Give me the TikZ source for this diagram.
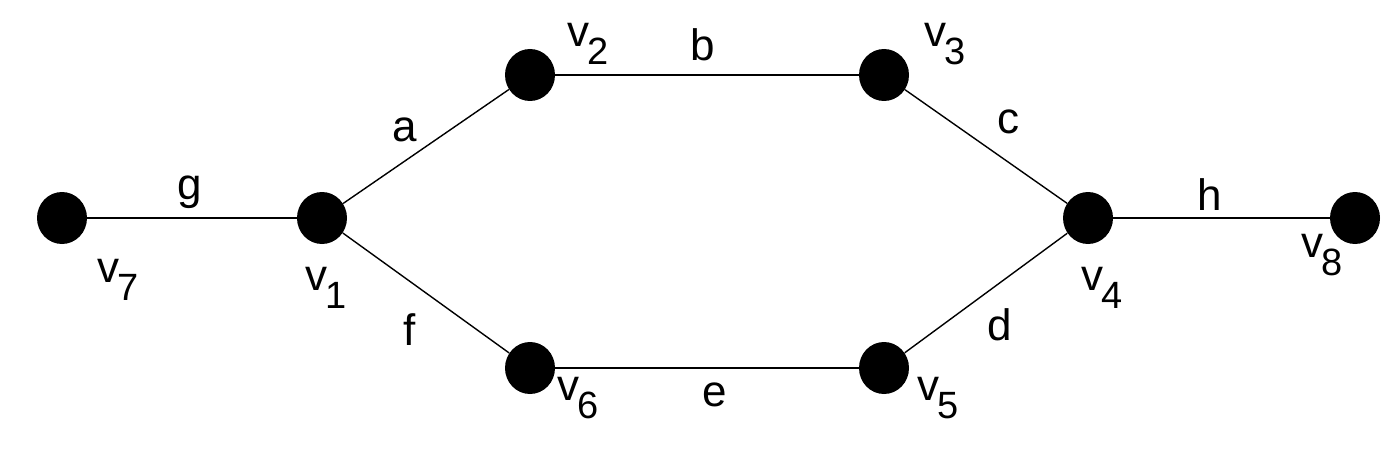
\documentclass[tikz,border=0pt]{standalone}
\usepackage{fontspec}
\setmainfont{Liberation Sans}
\usetikzlibrary{shapes.geometric}
\newcommand{\vlab}[1]{v\kern-1pt\raisebox{-9pt}{\fontsize{19}{22}\selectfont #1}}
\begin{document}
\begin{tikzpicture}[x=0.5pt,y=-0.5pt,
  vtx/.style={ellipse,fill=black,minimum width=25pt,minimum height=26pt,inner sep=0pt},
  lab/.style={font=\fontsize{22}{26}\selectfont,inner sep=0pt},
  edge/.style={line width=0.7pt}]
\useasboundingbox (0,0) rectangle (1391,449);
\node[vtx] (v7) at (62,218) {};
\node[vtx] (v1) at (322,218) {};
\node[vtx] (v2) at (530,75) {};
\node[vtx] (v3) at (884,75) {};
\node[vtx] (v4) at (1088,218) {};
\node[vtx] (v8) at (1355,218) {};
\node[vtx] (v6) at (530,368) {};
\node[vtx] (v5) at (884,368) {};
\draw[edge] (v7) -- (v1);
\draw[edge] (v1) -- (v2);
\draw[edge] (v2) -- (v3);
\draw[edge] (v3) -- (v4);
\draw[edge] (v4) -- (v8);
\draw[edge] (v1) -- (v6);
\draw[edge] (v6) -- (v5);
\draw[edge] (v5) -- (v4);
\node[lab] (l2) at (588,44) {\vlab{2}};
\node[lab] (l3) at (945,44) {\vlab{3}};
\node[lab] (l7) at (118,280) {\vlab{7}};
\node[lab] (l1) at (326,288) {\vlab{1}};
\node[lab] (l4) at (1102,288) {\vlab{4}};
\node[lab] (l8) at (1322,255) {\vlab{8}};
\node[lab] (l6) at (578,398) {\vlab{6}};
\node[lab] (l5) at (938,398) {\vlab{5}};
\node[lab] (la) at (405,130) {a};
\node[lab] (lb) at (703,45) {b};
\node[lab] (lc) at (1008,122) {c};
\node[lab] (lg) at (190,192) {g};
\node[lab] (lf) at (410,330) {f};
\node[lab] (le) at (715,395) {e};
\node[lab] (ld) at (1000,325) {d};
\node[lab] (lh) at (1210,195) {h};
\end{tikzpicture}
\end{document}
